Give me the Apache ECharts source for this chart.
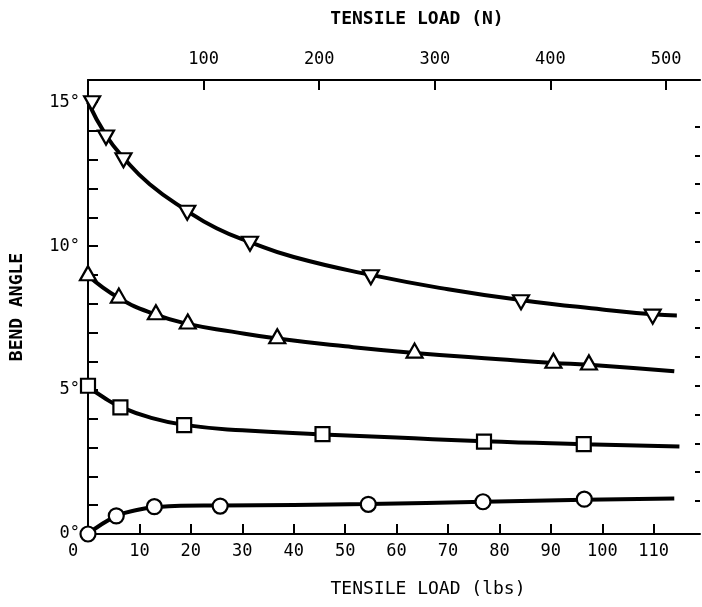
<!DOCTYPE html>
<html>
<head>
<meta charset="utf-8">
<script src="https://cdn.jsdelivr.net/npm/echarts@6/dist/echarts.min.js"></script>
<style>
html,body{margin:0;padding:0;background:#fff;}
#chart{width:702px;height:607px;}
</style>
</head>
<body>
<div id="chart"></div>
<script>
// ---- axes (x: tensile load in lbs, top: N, y: bend angle in degrees) ----
const xMaxLbs = 119;
const yMaxDeg = 15.77;
const lbsToN = 4.44822;
const lbsTicks = [0, 10, 20, 30, 40, 50, 60, 70, 80, 90, 100, 110];
const newtonTicks = [100, 200, 300, 400, 500];
const angleLabels = [0, 5, 10, 15];
const angleTicks = [0, 1, 2, 3, 4, 5, 6, 7, 8, 9, 10, 11, 12, 13, 14, 15];
const rightTicks = [1.15, 2.15, 3.15, 4.15, 5.15, 6.15, 7.15, 8.15, 9.15, 10.15, 11.15, 12.15, 13.15, 14.15];

// down-triangle series
const downX = [0.8, 3.5, 6.9, 19.3, 31.5, 55.0, 84.2, 109.8];
const downY = [14.96, 13.77, 12.98, 11.16, 10.08, 8.92, 8.05, 7.55];
const downCurveX = [0, 3.5, 7, 12, 19.3, 25, 31.5, 40, 55, 70, 84, 100, 109.8, 114.5];
const downCurveY = [15.0, 13.85, 13.05, 12.15, 11.22, 10.62, 10.14, 9.62, 9.0, 8.5, 8.13, 7.8, 7.63, 7.59];

// up-triangle series
const upX = [0, 6.0, 13.2, 19.4, 36.8, 63.5, 90.5, 97.4];
const upY = [9.06, 8.28, 7.70, 7.38, 6.87, 6.37, 6.02, 5.96];
const upCurveX = [0, 6, 13.2, 19.4, 28, 36.8, 50, 63.5, 80, 90.5, 97.4, 114];
const upCurveY = [8.98, 8.2, 7.62, 7.3, 7.03, 6.79, 6.52, 6.29, 6.07, 5.94, 5.88, 5.65];

// square series
const sqX = [0, 6.3, 18.7, 45.6, 77.0, 96.4];
const sqY = [5.15, 4.40, 3.78, 3.47, 3.21, 3.12];
const sqCurveX = [0, 3, 6.3, 12, 18.7, 30, 45.6, 60, 77, 96.4, 115];
const sqCurveY = [5.12, 4.75, 4.42, 4.05, 3.79, 3.6, 3.46, 3.35, 3.22, 3.12, 3.04];

// circle series
const circX = [0, 5.5, 12.9, 25.7, 54.5, 76.8, 96.5];
const circY = [0, 0.63, 0.95, 0.97, 1.03, 1.12, 1.21];
const circCurveX = [0, 5.5, 10, 13, 18, 25.7, 40, 54.5, 77, 96.5, 114];
const circCurveY = [0, 0.62, 0.85, 0.93, 0.98, 0.99, 1.01, 1.04, 1.12, 1.19, 1.23];

const zip = (xs, ys) => xs.map((x, i) => [x, ys[i]]);

const FONT = "'DejaVu Sans Mono', 'Liberation Mono', monospace";
const black = '#000';

function curve(xs, ys) {
  return {
    type: 'line', xAxisIndex: 0, yAxisIndex: 0,
    data: zip(xs, ys), smooth: 0.5,
    symbol: 'none', lineStyle: {color: black, width: 4}, z: 2, silent: true
  };
}
function markers(xs, ys, symbol, size, rotate) {
  return {
    type: 'scatter', xAxisIndex: 0, yAxisIndex: 0,
    data: zip(xs, ys), symbol: symbol, symbolSize: size, symbolRotate: rotate || 0,
    itemStyle: {color: '#fff', borderColor: black, borderWidth: 2.2, opacity: 1}, z: 5
  };
}

const tickStyle = {color: black, width: 2};

const chart = echarts.init(document.getElementById('chart'), null, {renderer: 'canvas'});
chart.setOption({
  animation: false,
  backgroundColor: '#fff',
  grid: {left: 85, right: 2, top: 80, bottom: 73, containLabel: false},
  xAxis: [{
    type: 'value', position: 'bottom', min: 0, max: xMaxLbs,
    name: 'TENSILE LOAD (lbs)', nameLocation: 'middle', nameGap: 46,
    nameTextStyle: {fontFamily: FONT, fontSize: 18, color: black, padding: [0, 0, 0, 68]},
    axisLine: {show: true, onZero: false, lineStyle: {color: black, width: 2}},
    axisTick: {show: true, inside: true, length: 10, customValues: lbsTicks, lineStyle: tickStyle},
    splitLine: {show: false},
    axisLabel: {
      fontFamily: FONT, fontSize: 17, color: black, margin: 9, customValues: lbsTicks,
      formatter: v => (v === 0 ? '{z|0}' : String(v)),
      rich: {z: {fontFamily: FONT, fontSize: 17, color: black, padding: [0, 30, 0, 0]}}
    }
  }, {
    type: 'value', position: 'top', min: 0, max: xMaxLbs * lbsToN,
    name: 'TENSILE LOAD (N)', nameLocation: 'middle', nameGap: 52,
    nameTextStyle: {fontFamily: FONT, fontSize: 18, fontWeight: 'bold', color: black, padding: [0, 0, 0, 46]},
    axisLine: {show: true, onZero: false, lineStyle: {color: black, width: 2}},
    axisTick: {show: true, inside: true, length: 10, customValues: newtonTicks, lineStyle: tickStyle},
    splitLine: {show: false},
    axisLabel: {
      fontFamily: FONT, fontSize: 17, color: black, margin: 12, customValues: newtonTicks,
      formatter: v => String(v)
    }
  }],
  yAxis: [{
    type: 'value', position: 'left', min: 0, max: yMaxDeg,
    name: 'BEND ANGLE', nameLocation: 'middle', nameGap: 62, nameRotate: 90,
    nameTextStyle: {fontFamily: FONT, fontSize: 18, fontWeight: 'bold', color: black},
    axisLine: {show: true, onZero: false, lineStyle: {color: black, width: 2}},
    axisTick: {show: true, inside: true, length: 10, customValues: angleTicks, lineStyle: tickStyle},
    splitLine: {show: false},
    axisLabel: {
      fontFamily: FONT, fontSize: 17, color: black, margin: 8, customValues: angleLabels,
      formatter: v => v + '°'
    }
  }, {
    type: 'value', position: 'right', min: 0, max: yMaxDeg,
    axisLine: {show: false, onZero: false},
    axisTick: {show: true, inside: true, length: 5, customValues: rightTicks, lineStyle: tickStyle},
    axisLabel: {show: false},
    splitLine: {show: false}
  }],
  series: [
    curve(downCurveX, downCurveY),
    curve(upCurveX, upCurveY),
    curve(sqCurveX, sqCurveY),
    curve(circCurveX, circCurveY),
    markers(downX, downY, 'triangle', [16, 14], 180),
    markers(upX, upY, 'triangle', [16, 14], 0),
    markers(sqX, sqY, 'rect', 14, 0),
    markers(circX, circY, 'circle', 15, 0)
  ]
});
</script>
</body>
</html>
